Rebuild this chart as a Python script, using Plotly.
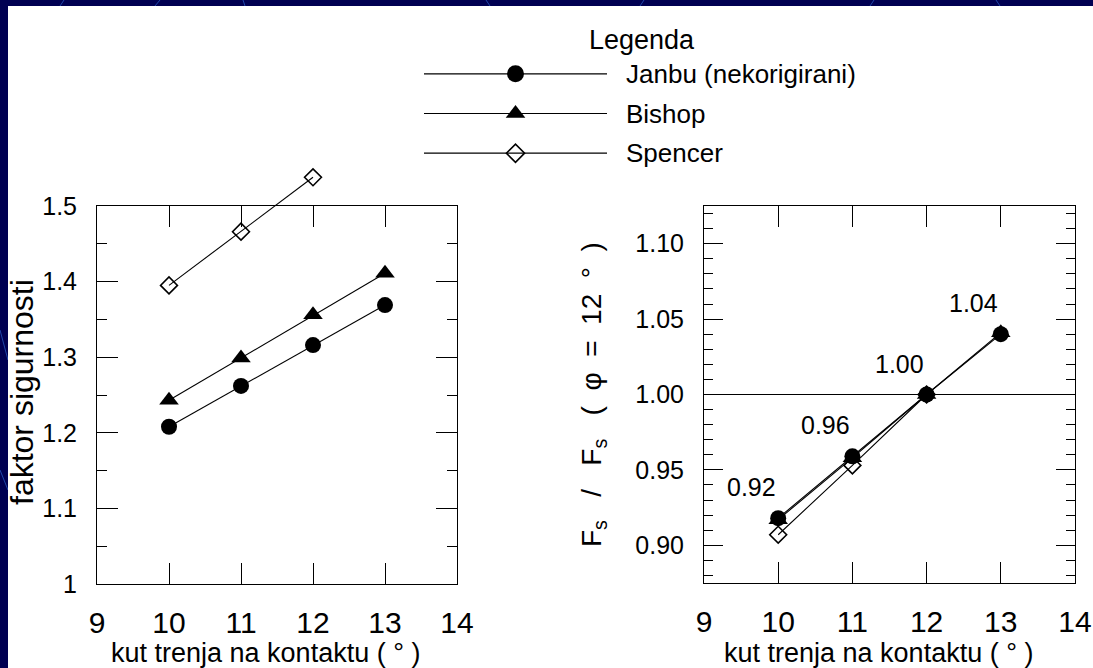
import plotly.graph_objects as go

# ---------------- data ----------------
phi = [10, 11, 12, 13]
janbu = [1.208, 1.262, 1.316, 1.369]
bishop = [1.243, 1.299, 1.356, 1.411]
spencer_phi = [10, 11, 12]
spencer = [1.395, 1.466, 1.538]

janbu_ratio = [0.918, 0.959, 1.000, 1.040]
bishop_ratio = [0.917, 0.958, 1.000, 1.041]
spencer_ratio = [0.907, 0.953, 1.000]
ratio_labels = ["0.92", "0.96", "1.00", "1.04"]

x_ticks = [9, 10, 11, 12, 13, 14]
left_y_ticks = [1.0, 1.1, 1.2, 1.3, 1.4, 1.5]
left_y_text = ["1", "1.1", "1.2", "1.3", "1.4", "1.5"]
right_y_ticks = [0.90, 0.95, 1.00, 1.05, 1.10]
right_y_text = ["0.90", "0.95", "1.00", "1.05", "1.10"]

series_names = ["Janbu (nekorigirani)", "Bishop", "Spencer"]

# ---------------- layout helpers ----------------
W, H = 1093, 668
def px(x):
    return x / W
def py(y):
    return 1 - y / H

FONT = "Liberation Sans, Arial, sans-serif"
NAVY = "rgb(0,0,82)"
NB = "\u00a0"

L_dom_x = [px(97), px(457)]
L_dom_y = [py(584), py(206)]
R_dom_x = [px(704), px(1075)]
R_dom_y = [py(583), py(206)]
L_range = [1.0, 1.5]
ext_top = 1.56
L_ext_dom_y = [L_dom_y[0], L_dom_y[0] + (L_dom_y[1] - L_dom_y[0]) * (ext_top - L_range[0]) / (L_range[1] - L_range[0])]

circle = dict(symbol="circle", size=16, color="black")
tri = dict(symbol="triangle-up", size=17, color="black")
diam = dict(symbol="diamond-open", size=13, color="black", line=dict(color="black", width=1.6))
line = dict(color="black", width=1.1)

fig = go.Figure()

# left panel
fig.add_trace(go.Scatter(x=spencer_phi, y=spencer, mode="lines+markers", marker=diam, line=line,
                         xaxis="x", yaxis="y4", showlegend=False, cliponaxis=False))
fig.add_trace(go.Scatter(x=phi, y=bishop, mode="lines+markers", marker=tri, line=line,
                         xaxis="x", yaxis="y", showlegend=False, cliponaxis=False))
fig.add_trace(go.Scatter(x=phi, y=janbu, mode="lines+markers", marker=circle, line=line,
                         xaxis="x", yaxis="y", showlegend=False, cliponaxis=False))

# right panel
fig.add_trace(go.Scatter(x=spencer_phi, y=spencer_ratio, mode="lines+markers", marker=diam, line=line,
                         xaxis="x2", yaxis="y2", showlegend=False, cliponaxis=False))
fig.add_trace(go.Scatter(x=phi, y=bishop_ratio, mode="lines+markers", marker=tri, line=line,
                         xaxis="x2", yaxis="y2", showlegend=False, cliponaxis=False))
fig.add_trace(go.Scatter(x=phi, y=janbu_ratio, mode="lines+markers", marker=circle, line=line,
                         xaxis="x2", yaxis="y2", showlegend=False, cliponaxis=False))

# manual legend samples (hidden axes)
leg_markers = [dict(symbol="circle", size=17, color="black"),
               dict(symbol="triangle-up", size=17, color="black"),
               dict(symbol="diamond-open", size=14, color="black", line=dict(color="black", width=1.6))]
for i, mk in enumerate(leg_markers):
    fig.add_trace(go.Scatter(x=[0, 1], y=[i, i], mode="lines",
                             line=dict(color="black", width=1.1), xaxis="x3", yaxis="y3",
                             showlegend=False, hoverinfo="skip"))
    fig.add_trace(go.Scatter(x=[0.5], y=[i], mode="markers", marker=mk, xaxis="x3", yaxis="y3",
                             showlegend=False, cliponaxis=False, hoverinfo="skip"))

axis_common = dict(showline=True, linecolor="black", linewidth=1, mirror="ticks", ticks="inside",
                   tickcolor="black", showgrid=False, zeroline=False, tickwidth=1, automargin=False)

fig.update_layout(
    width=W, height=H, margin=dict(l=0, r=0, t=0, b=0, autoexpand=False),
    paper_bgcolor=NAVY, plot_bgcolor="rgba(0,0,0,0)",
    font=dict(family=FONT, color="black"),
    xaxis=dict(axis_common, domain=L_dom_x, range=[9, 14], anchor="y", tickvals=x_ticks,
               ticklen=21, tickfont=dict(size=30), ticklabelstandoff=12),
    yaxis=dict(axis_common, domain=L_dom_y, range=L_range, anchor="x", tickvals=left_y_ticks,
               ticktext=left_y_text, ticklen=21, tickfont=dict(size=25), ticklabelstandoff=14,
               minor=dict(tickvals=[1.05, 1.15, 1.25, 1.35, 1.45], ticklen=10, ticks="inside", tickcolor="black")),
    yaxis4=dict(domain=L_ext_dom_y, range=[L_range[0], ext_top], anchor="x", visible=False, automargin=False),
    xaxis2=dict(axis_common, domain=R_dom_x, range=[9, 14], anchor="y2", tickvals=x_ticks,
                ticklen=21, tickfont=dict(size=30), ticklabelstandoff=12),
    yaxis2=dict(axis_common, domain=R_dom_y, range=[0.875, 1.125], anchor="x2", tickvals=right_y_ticks,
                ticktext=right_y_text, ticklen=19, tickfont=dict(size=25), ticklabelstandoff=14,
                minor=dict(dtick=0.01, tick0=0, ticklen=9, ticks="inside", tickcolor="black")),
    xaxis3=dict(domain=[px(424), px(607)], range=[0, 1], visible=False, anchor="y3", automargin=False),
    yaxis3=dict(domain=[py(173), py(54)], range=[2.5, -0.5], visible=False, anchor="x3", automargin=False),
)

shapes = []
# decorative faint lines in the navy strip
for (x0, y0, x1, y1) in [(60, 6, 64, 0), (155, 6, 160, 0), (245, 6, 243, 0), (490, 6, 486, 0),
                         (640, 6, 644, 0), (870, 6, 874, 0), (1000, 6, 996, 0), (0, 330, 8, 360), (0, 470, 8, 490)]:
    shapes.append(dict(type="line", xref="paper", yref="paper", x0=px(x0), y0=py(y0), x1=px(x1), y1=py(y1),
                       line=dict(color="rgb(30,70,170)", width=1), layer="below"))
# white canvas
shapes.append(dict(type="rect", xref="paper", yref="paper", x0=px(8), x1=1, y0=0, y1=py(6),
                   fillcolor="white", line=dict(width=0), layer="below"))
# reference line at 1.00
shapes.append(dict(type="line", xref="x2 domain", yref="y2", x0=0, x1=1, y0=1.0, y1=1.0,
                   line=dict(color="black", width=1)))
fig.update_layout(shapes=shapes)

def txt(size):
    return dict(size=size, family=FONT, color="black")

ann = []
# value labels on the right panel
for xv, yv, lab in zip(phi, janbu_ratio, ratio_labels):
    ann.append(dict(x=xv, y=yv, xref="x2", yref="y2", text=lab, showarrow=False,
                    xanchor="center", yanchor="middle", xshift=-27, yshift=31, font=txt(25)))
# axis titles
ann.append(dict(x=px(22), y=py(392), xref="paper", yref="paper", text="faktor sigurnosti", textangle=-90,
                xanchor="center", yanchor="middle", showarrow=False, font=txt(32)))
ann.append(dict(x=px(265), y=py(653), xref="paper", yref="paper", text="kut trenja na kontaktu ( ° )",
                xanchor="center", yanchor="middle", showarrow=False, font=txt(27)))
ann.append(dict(x=px(878), y=py(653), xref="paper", yref="paper", text="kut trenja na kontaktu ( ° )",
                xanchor="center", yanchor="middle", showarrow=False, font=txt(27)))
rtitle = ("F<sub>s</sub>" + NB * 3 + "/" + NB * 3 + "F<sub>s</sub>" + NB * 3 + "(" + NB * 2 + "φ" + NB * 2
          + "=" + NB * 2 + "12" + NB * 2 + "°" + NB * 2 + ")")
ann.append(dict(x=px(593), y=py(395), xref="paper", yref="paper", text=rtitle, textangle=-90,
                xanchor="center", yanchor="middle", showarrow=False, font=txt(28)))
# legend texts
ann.append(dict(x=px(642), y=py(40), xref="paper", yref="paper", text="Legenda", showarrow=False,
                xanchor="center", yanchor="middle", font=txt(27)))
for i, name in enumerate(series_names):
    ann.append(dict(x=px(624), y=i, xref="paper", yref="y3", text=name, showarrow=False,
                    xanchor="left", yanchor="middle", font=txt(26)))
fig.update_layout(annotations=ann)

fig.write_html("out.html")
